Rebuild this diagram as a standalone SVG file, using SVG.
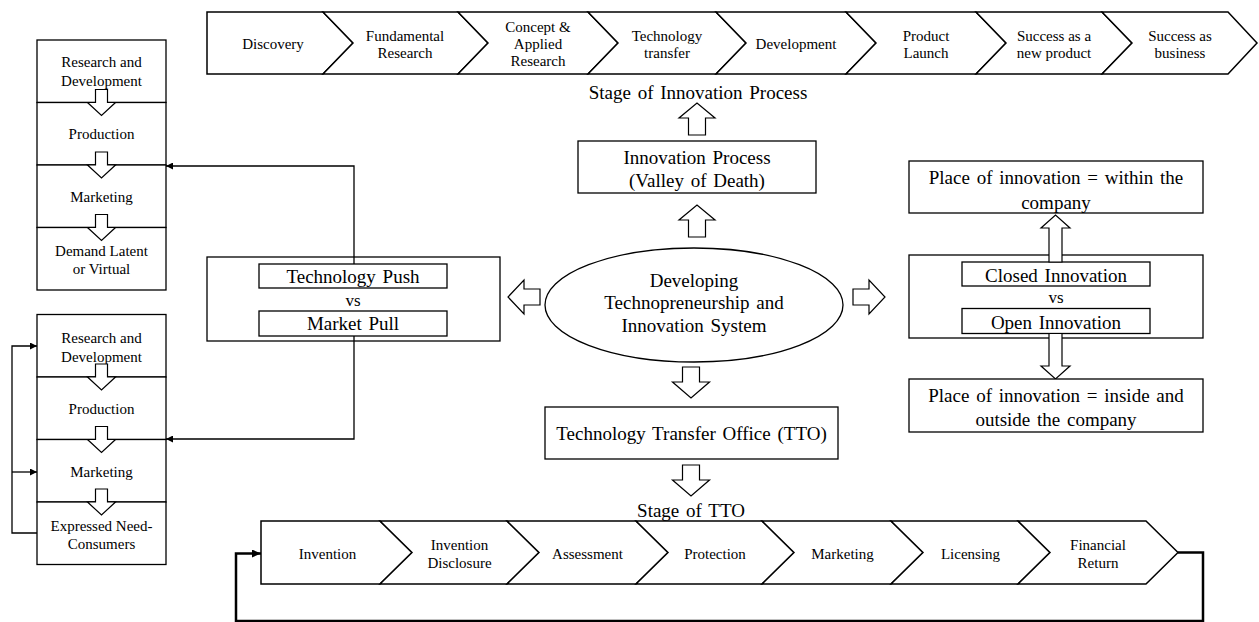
<svg xmlns="http://www.w3.org/2000/svg" width="1259" height="622" viewBox="0 0 1259 622">
<defs>
<style>
text{font-family:"Liberation Serif","Times New Roman",serif;fill:#000;dominant-baseline:central;text-anchor:middle}
.s{font-size:15px}
.m{font-size:19px;word-spacing:2px}
.box{fill:#fff;stroke:#000;stroke-width:1.3}
.chev{fill:#fff;stroke:#000;stroke-width:1.5;stroke-linejoin:miter}
.blk{fill:#fff;stroke:#000;stroke-width:1.2;stroke-linejoin:miter}
.con{fill:none;stroke:#000;stroke-width:1.3}
.loop{fill:none;stroke:#000;stroke-width:2.5}
</style>
<marker id="ah" markerWidth="7" markerHeight="7" refX="7" refY="3.5" orient="auto" markerUnits="userSpaceOnUse"><path d="M0,0 L7,3.5 L0,7 z" fill="#000"/></marker>
<marker id="ah2" markerWidth="9" markerHeight="8" refX="9" refY="4" orient="auto" markerUnits="userSpaceOnUse"><path d="M0,0 L9,4 L0,8 z" fill="#000"/></marker>
</defs>
<rect width="1259" height="622" fill="#fff"/>

<g id="innovation-stages">
<path class="chev" d="M207,12 H323 L353,43 L323,74 H207 Z"/>
<path class="chev" d="M323,12 H458 L488,43 L458,74 H323 L353,43 Z"/>
<path class="chev" d="M458,12 H588 L618,43 L588,74 H458 L488,43 Z"/>
<path class="chev" d="M588,12 H716 L746,43 L716,74 H588 L618,43 Z"/>
<path class="chev" d="M716,12 H846 L876,43 L846,74 H716 L746,43 Z"/>
<path class="chev" d="M846,12 H976 L1006,43 L976,74 H846 L876,43 Z"/>
<path class="chev" d="M976,12 H1102 L1132,43 L1102,74 H976 L1006,43 Z"/>
<path class="chev" d="M1102,12 H1228 L1257,43 L1228,74 H1102 L1132,43 Z"/>
<text class="s" x="273" y="44">Discovery</text>
<text class="s" x="405" y="35.5">Fundamental</text>
<text class="s" x="405" y="52.5">Research</text>
<text class="s" x="538" y="27">Concept &amp;</text>
<text class="s" x="538" y="44">Applied</text>
<text class="s" x="538" y="61">Research</text>
<text class="s" x="667" y="35.5">Technology</text>
<text class="s" x="667" y="52.5">transfer</text>
<text class="s" x="796" y="44">Development</text>
<text class="s" x="926" y="35.5">Product</text>
<text class="s" x="926" y="52.5">Launch</text>
<text class="s" x="1054" y="35.5">Success as a</text>
<text class="s" x="1054" y="52.5">new product</text>
<text class="s" x="1180" y="35.5">Success as</text>
<text class="s" x="1180" y="52.5">business</text>
</g>

<g id="stage-innovation-label">
<text class="m" x="698" y="92">Stage of Innovation Process</text>
</g>

<g id="arrow-up-1"><path class="blk" d="M688.5,135 V118 H679 L697,103 L715,118 H705.5 V135 Z"/></g>

<g id="innovation-process">
<rect class="box" x="578" y="141" width="238" height="52"/>
<text class="m" x="697" y="157.5">Innovation Process</text>
<text class="m" x="697" y="180">(Valley of Death)</text>
</g>

<g id="arrow-up-2"><path class="blk" d="M688.5,237 V220 H679 L697,205 L715,220 H705.5 V237 Z"/></g>

<g id="center">
<ellipse class="box" cx="694" cy="305" rx="149" ry="57"/>
<text class="m" x="694" y="280">Developing</text>
<text class="m" x="694" y="302">Technopreneurship and</text>
<text class="m" x="694" y="325">Innovation System</text>
</g>

<g id="arrow-left"><path class="blk" d="M540,289 H524 V280 L508,297 L524,314 V305 H540 Z"/></g>
<g id="arrow-right"><path class="blk" d="M853,289 H869 V280 L885,297 L869,314 V305 H853 Z"/></g>
<g id="arrow-down-1"><path class="blk" d="M682.5,367 V382 H672.5 L691,398 L709.5,382 H699.5 V367 Z"/></g>

<g id="tto">
<rect class="box" x="545" y="407" width="293" height="52"/>
<text class="m" x="691.5" y="433">Technology Transfer Office (TTO)</text>
</g>

<g id="arrow-down-2"><path class="blk" d="M682.5,465 V480 H672.5 L691,496 L709.5,480 H699.5 V465 Z"/></g>

<g id="stage-tto-label">
<text class="m" x="691" y="510">Stage of TTO</text>
</g>

<g id="tto-stages">
<path class="chev" d="M261,521 H380 L412,552.5 L380,584 H261 Z"/>
<path class="chev" d="M380,521 H507 L539,552.5 L507,584 H380 L412,552.5 Z"/>
<path class="chev" d="M507,521 H636 L668,552.5 L636,584 H507 L539,552.5 Z"/>
<path class="chev" d="M636,521 H762 L794,552.5 L762,584 H636 L668,552.5 Z"/>
<path class="chev" d="M762,521 H891 L923,552.5 L891,584 H762 L794,552.5 Z"/>
<path class="chev" d="M891,521 H1018 L1050,552.5 L1018,584 H891 L923,552.5 Z"/>
<path class="chev" d="M1018,521 H1146 L1178,552.5 L1146,584 H1018 L1050,552.5 Z"/>
<text class="s" x="327.5" y="553.5">Invention</text>
<text class="s" x="459.5" y="545">Invention</text>
<text class="s" x="459.5" y="563">Disclosure</text>
<text class="s" x="587.5" y="553.5">Assessment</text>
<text class="s" x="715" y="553.5">Protection</text>
<text class="s" x="842.5" y="553.5">Marketing</text>
<text class="s" x="970.5" y="553.5">Licensing</text>
<text class="s" x="1098" y="545">Financial</text>
<text class="s" x="1098" y="563">Return</text>
</g>

<g id="push-pull">
<rect class="box" x="207" y="257" width="293" height="84"/>
<rect class="box" x="259" y="264" width="188" height="24"/>
<rect class="box" x="259" y="311" width="188" height="25"/>
<text class="m" x="353" y="276.5">Technology Push</text>
<text class="m" x="353" y="300" style="font-size:17px">vs</text>
<text class="m" x="353" y="323.5">Market Pull</text>
</g>

<g id="stack-push">
<rect class="box" x="37" y="40" width="129" height="62.5"/>
<rect class="box" x="37" y="102.5" width="129" height="62.5"/>
<rect class="box" x="37" y="165" width="129" height="62.5"/>
<rect class="box" x="37" y="227.5" width="129" height="62.5"/>
<text class="s" x="101.5" y="62">Research and</text>
<text class="s" x="101.5" y="81">Development</text>
<text class="s" x="101.5" y="134">Production</text>
<text class="s" x="101.5" y="196.5">Marketing</text>
<text class="s" x="101.5" y="250.5">Demand Latent</text>
<text class="s" x="101.5" y="269">or Virtual</text>
<path class="blk" d="M95.5,89.5 V102.5 H87.5 L101.5,115.5 L115.5,102.5 H107.5 V89.5 Z"/>
<path class="blk" d="M95.5,152 V165 H87.5 L101.5,178 L115.5,165 H107.5 V152 Z"/>
<path class="blk" d="M95.5,214.5 V227.5 H87.5 L101.5,240.5 L115.5,227.5 H107.5 V214.5 Z"/>
</g>

<g id="stack-pull">
<rect class="box" x="37" y="314.5" width="129" height="62.5"/>
<rect class="box" x="37" y="377" width="129" height="62.5"/>
<rect class="box" x="37" y="439.5" width="129" height="62.5"/>
<rect class="box" x="37" y="502" width="129" height="62.5"/>
<text class="s" x="101.5" y="337.5">Research and</text>
<text class="s" x="101.5" y="356.5">Development</text>
<text class="s" x="101.5" y="409">Production</text>
<text class="s" x="101.5" y="472">Marketing</text>
<text class="s" x="101.5" y="525.5">Expressed Need-</text>
<text class="s" x="101.5" y="544">Consumers</text>
<path class="blk" d="M95.5,364 V377 H87.5 L101.5,390 L115.5,377 H107.5 V364 Z"/>
<path class="blk" d="M95.5,426.5 V439.5 H87.5 L101.5,452.5 L115.5,439.5 H107.5 V426.5 Z"/>
<path class="blk" d="M95.5,489 V502 H87.5 L101.5,515 L115.5,502 H107.5 V489 Z"/>
</g>

<g id="place-within">
<rect class="box" x="909" y="161" width="294" height="52"/>
<text class="m" x="1056" y="177">Place of innovation = within the</text>
<text class="m" x="1056" y="202">company</text>
</g>

<g id="closed-open">
<rect class="box" x="909" y="255" width="294" height="83"/>
<rect class="box" x="962" y="262" width="188" height="24"/>
<rect class="box" x="962" y="308.5" width="188" height="25"/>
<text class="m" x="1056" y="275">Closed Innovation</text>
<text class="m" x="1056" y="297" style="font-size:17px">vs</text>
<text class="m" x="1056" y="322">Open Innovation</text>
</g>

<g id="arrow-closed-up"><path class="blk" d="M1049,262 V228 H1041 L1055.5,215 L1070,228 H1062 V262 Z"/></g>
<g id="arrow-open-down"><path class="blk" d="M1049,333.5 V366 H1041 L1055.5,379 L1070,366 H1062 V333.5 Z"/></g>

<g id="place-inside-outside">
<rect class="box" x="909" y="379" width="294" height="53"/>
<text class="m" x="1056" y="395">Place of innovation = inside and</text>
<text class="m" x="1056" y="419">outside the company</text>
</g>

<g id="connectors">
<path class="con" d="M354,264 V166 H166" marker-end="url(#ah)"/>
<path class="con" d="M354,336 V439 H166" marker-end="url(#ah)"/>
<path class="con" d="M37,533 H12 V346 H37" marker-end="url(#ah)"/>
<path class="con" d="M12,472 H37" marker-end="url(#ah)"/>
<path class="loop" d="M1178,552.5 H1203 V621 H236 V553.5 H261" marker-end="url(#ah2)"/>
</g>
</svg>
